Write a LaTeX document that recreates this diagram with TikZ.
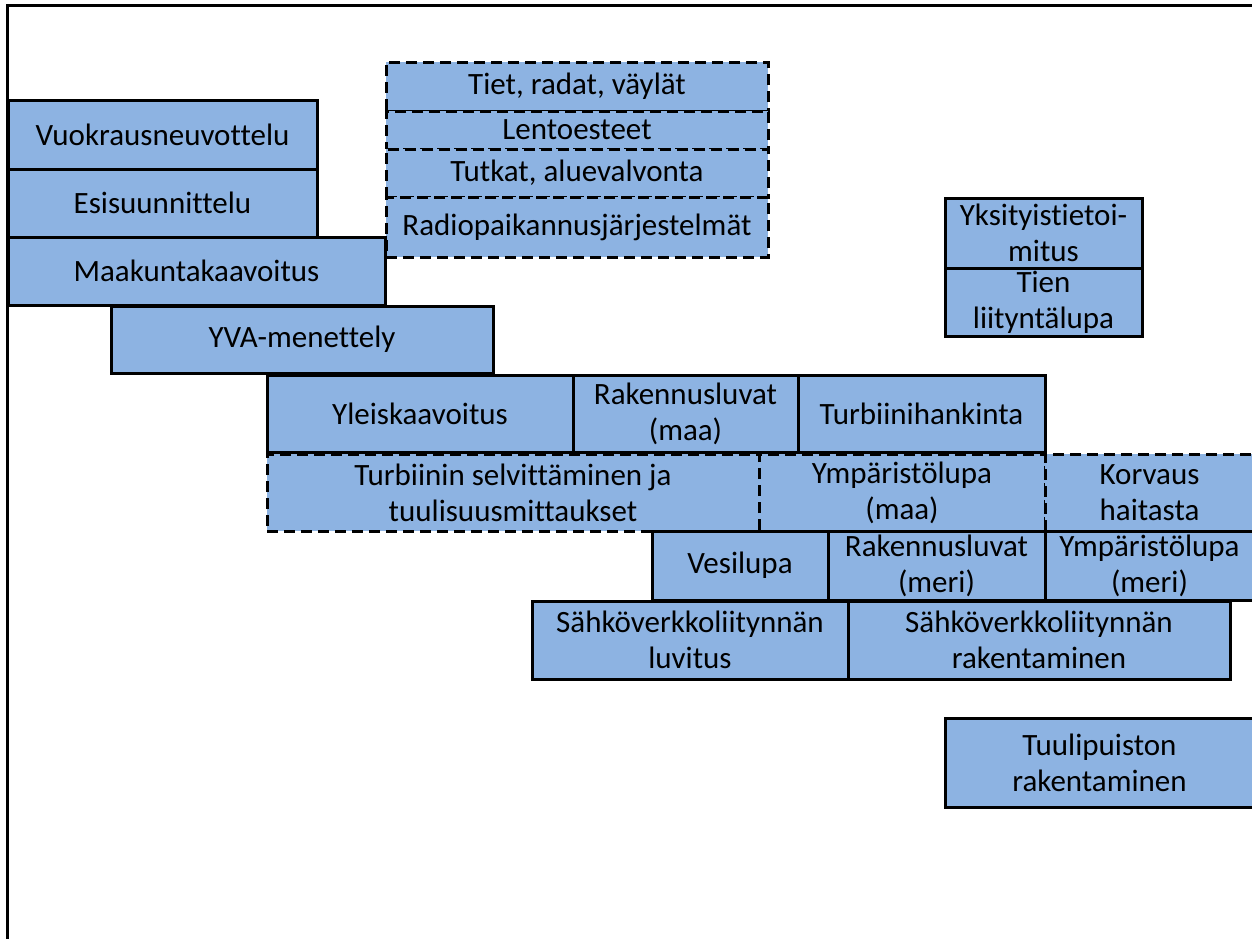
\documentclass[tikz,border=0pt]{standalone}
\usepackage{fontspec}
\setmainfont{Carlito}[Ligatures={NoCommon}]
\definecolor{boxblue}{RGB}{141,179,226}
\tikzset{
  box/.style={draw=black, line width=3pt, fill=boxblue, inner sep=0pt, align=center,
    font=\fontsize{31}{36}\selectfont},
  dbox/.style={box, dash pattern=on 11pt off 6pt},
  frameline/.style={draw=black, line width=3pt}
}
\newcommand{\bx}[7][box]{%
  \node[#1, minimum width={(#5-#3)*1pt}, minimum height={(#6-#4)*1pt}] (#2) at ({(#3+#5)/2},{(#4+#6)/2}) {#7};}
\begin{document}
\begin{tikzpicture}[x=1pt,y=-1pt]
\useasboundingbox (0,0) rectangle (1252,938);
\clip (0,0) rectangle (1252,938);
\fill[white] (0,0) rectangle (1252,938);
% frame
\coordinate (fbl) at (7,945);
\coordinate (ftl) at (7,5);
\coordinate (ftr) at (1260,5);
\draw[frameline] (fbl) -- (ftl) -- (ftr);
% dashed group top
\bx[dbox]{tiet}{386}{62}{768}{111}{Tiet, radat, väylät}
\bx[dbox]{lento}{386}{111}{768}{149}{Lentoesteet}
\bx[dbox]{tutkat}{386}{149}{768}{197}{Tutkat, aluevalvonta}
\bx[dbox]{radio}{386}{197}{768}{257}{Radiopaikannusjärjestelmät}
% left stack
\bx{vuok}{8}{100}{317}{169}{Vuokrausneuvottelu}
\bx{esis}{8}{169}{317}{237}{Esisuunnittelu}
\bx{maak}{8}{237}{385}{305}{Maakuntakaavoitus}
\bx{yva}{111}{306}{493}{373}{YVA-menettely}
% right small
\bx{yksi}{945}{198}{1142}{268}{Yksityistietoi-\\mitus}
\bx{tien}{945}{268}{1142}{336}{Tien\\liityntälupa}
% row
\bx{yleis}{267}{375}{573}{452}{Yleiskaavoitus}
\bx{rakmaa}{573}{375}{798}{452}{Rakennusluvat\\(maa)}
\bx{turbh}{798}{375}{1045}{452}{Turbiinihankinta}
% dashed row
\bx[dbox]{turbs}{267}{454}{759}{531}{Turbiinin selvittäminen ja\\tuulisuusmittaukset}
\bx[dbox]{ympmaa}{759}{454}{1045}{531}{Ympäristölupa\\(maa)}
\bx[dbox]{korv}{1045}{454}{1254}{531}{Korvaus\\haitasta}
% next row
\bx{vesi}{652}{531}{828}{600}{Vesilupa}
\bx{rakmeri}{828}{531}{1045}{600}{Rakennusluvat\\(meri)}
\bx{ympmeri}{1045}{531}{1254}{600}{Ympäristölupa\\(meri)}
% power row
\bx{sahkl}{532}{601}{848}{679}{Sähköverkkoliitynnän\\luvitus}
\bx{sahkr}{848}{601}{1230}{679}{Sähköverkkoliitynnän\\rakentaminen}
% final
\bx{tuuli}{945}{718}{1254}{807}{Tuulipuiston\\rakentaminen}
\end{tikzpicture}
\end{document}
